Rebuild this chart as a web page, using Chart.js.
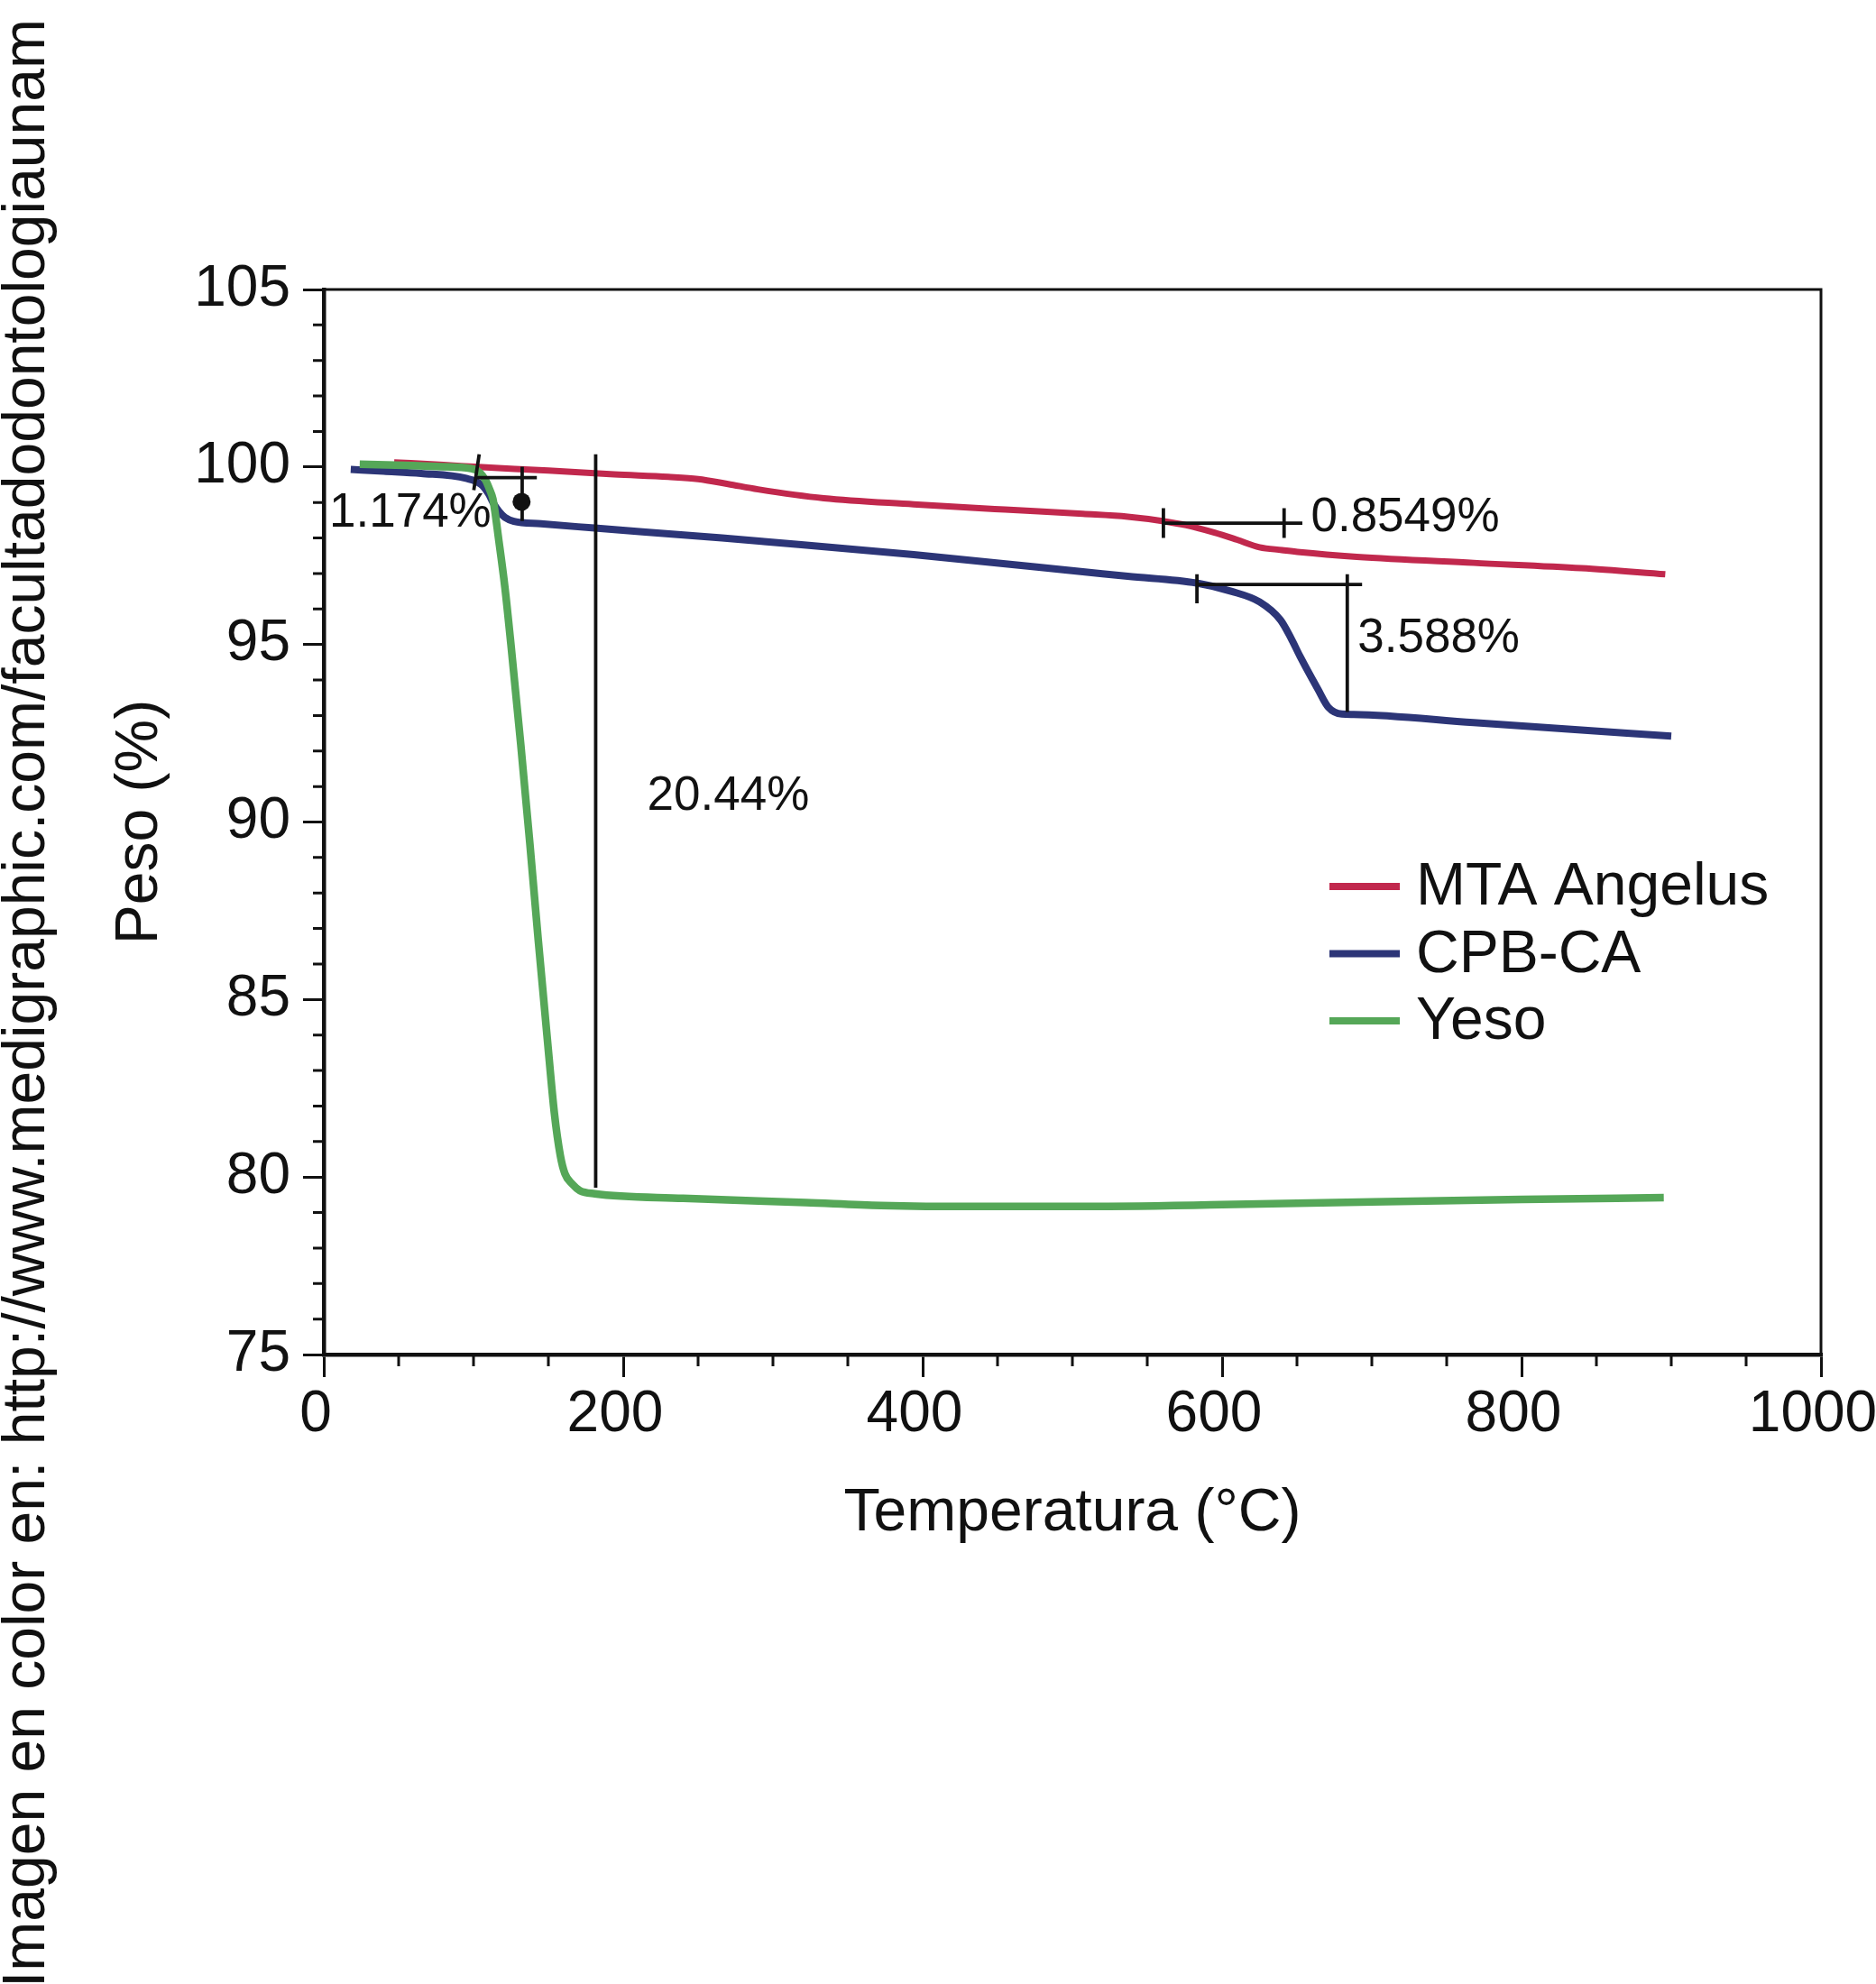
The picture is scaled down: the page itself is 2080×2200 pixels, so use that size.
<!DOCTYPE html>
<html lang="es">
<head>
<meta charset="utf-8">
<title>Peso vs Temperatura</title>
<script src="https://cdn.jsdelivr.net/npm/chart.js@4.4.1/dist/chart.umd.min.js"></script>
<style>
  html, body { margin: 0; padding: 0; background: #fff; overflow: hidden; }
  #wrap { position: relative; width: 2080px; height: 2200px; }
  #tgaChart { position: absolute; left: 0; top: 0; }
  .watermark {
    position: absolute;
    left: -7px;
    top: 2204px;
    transform-origin: 0 0;
    transform: rotate(-90deg);
    font: 66px/1 'Liberation Sans', Arial, Helvetica, sans-serif;
    white-space: nowrap;
    color: #111;
  }
</style>
</head>
<body>
<div id="wrap">
  <canvas id="tgaChart" width="2080" height="2200"></canvas>
  <div class="watermark">Imagen en color en: http://www.medigraphic.com/facultadodontologiaunam</div>
</div>
<script>
// Values (temperature in °C, weight in %)
const mtaTemp = [47, 80, 103, 150, 194, 230, 250, 270, 290, 334, 394, 455, 507, 537, 560, 576, 595, 610, 625, 640, 652, 690, 768, 840, 896];
const mtaPeso = [100.13, 100.06, 100.0, 99.9, 99.79, 99.72, 99.66, 99.52, 99.37, 99.12, 98.95, 98.80, 98.68, 98.60, 98.48, 98.36, 98.15, 97.95, 97.74, 97.66, 97.60, 97.47, 97.30, 97.15, 96.98];

const cpbTemp = [18, 40, 65, 95, 105, 110, 113, 117, 121, 127, 145, 181, 266, 294, 394, 507, 537, 583, 606, 625, 639, 646, 652, 664, 671, 680, 688, 768, 900];
const cpbPeso = [99.93, 99.88, 99.82, 99.68, 99.51, 99.25, 99.0, 98.75, 98.58, 98.47, 98.40, 98.28, 98.0, 97.90, 97.53, 97.05, 96.92, 96.73, 96.50, 96.20, 95.69, 95.18, 94.67, 93.74, 93.23, 93.04, 93.03, 92.80, 92.42];

const yesoTemp = [24, 60, 85, 101, 108, 111, 113, 117, 121, 125, 131.6, 137.6, 143.3, 149.3, 154, 158, 161, 166, 171, 181, 240, 322, 372, 435, 500, 600, 700, 800, 895];
const yesoPeso = [100.08, 100.04, 100.0, 99.93, 99.63, 99.34, 99.09, 97.9, 96.6, 95.0, 92.17, 89.41, 86.65, 83.89, 81.8, 80.6, 80.1, 79.8, 79.62, 79.53, 79.40, 79.28, 79.2, 79.17, 79.17, 79.22, 79.3, 79.37, 79.42];

const seriesNames = ['MTA Angelus', 'CPB-CA', 'Yeso'];
const seriesColors = ['#c1284d', '#2c3577', '#55a758'];

// Axis ranges and tick steps
const tempRange = [0, 1000];
const pesoRange = [75, 105];
const tempStep = 200;
const pesoStep = 5;

// Step marks drawn on the curves, in data units: [t1, w1, t2, w2]
const markLines = [
  [181.6, 100.36, 181.6, 79.70],
  [100.2, 99.35, 103.8, 100.36],
  [101.4, 99.70, 142.3, 99.70],
  [132.5, 100.01, 132.5, 98.48],
  [560.2, 98.42, 653.6, 98.42],
  [560.8, 98.84, 560.8, 98.00],
  [641.4, 98.84, 641.4, 98.00],
  [583.2, 96.69, 693.5, 96.69],
  [583.2, 96.98, 583.2, 96.16],
  [683.6, 96.98, 683.6, 93.10]
];
const markDot = [132.1, 99.02];
const markTexts = ['1.174%', '20.44%', '0.8549%', '3.588%'];
const markTextPos = [[3.6, 98.68], [216, 90.72], [659.3, 98.56], [690.5, 95.16]];

const ink = '#111';
const fontFamily = "'Liberation Sans', Arial, Helvetica, sans-serif";
Chart.defaults.font.family = fontFamily;
Chart.defaults.color = ink;

const toPoints = (xs, ys) => xs.map((t, i) => ({ x: t, y: ys[i] }));

// Minor ticks, frame, step marks and legend
const tgaDecor = {
  id: 'tgaDecor',
  afterDatasetsDraw(chart) {
    const { ctx, chartArea: a, scales: { x, y } } = chart;
    ctx.save();

    // top and right sides of the frame
    ctx.strokeStyle = ink;
    ctx.lineWidth = 3;
    ctx.beginPath();
    ctx.moveTo(a.left, a.top);
    ctx.lineTo(a.right, a.top);
    ctx.lineTo(a.right, a.bottom);
    ctx.stroke();

    // minor ticks
    ctx.beginPath();
    for (let t = tempRange[0] + 50; t < tempRange[1]; t += 50) {
      if (t % tempStep === 0) continue;
      const px = x.getPixelForValue(t);
      ctx.moveTo(px, a.bottom);
      ctx.lineTo(px, a.bottom + 13);
    }
    for (let w = pesoRange[0] + 1; w < pesoRange[1]; w += 1) {
      if (w % pesoStep === 0) continue;
      const py = y.getPixelForValue(w);
      ctx.moveTo(a.left, py);
      ctx.lineTo(a.left - 12, py);
    }
    ctx.stroke();

    // step marks
    ctx.lineWidth = 3.8;
    ctx.beginPath();
    markLines.forEach(([t1, w1, t2, w2]) => {
      ctx.moveTo(x.getPixelForValue(t1), y.getPixelForValue(w1));
      ctx.lineTo(x.getPixelForValue(t2), y.getPixelForValue(w2));
    });
    ctx.stroke();
    ctx.fillStyle = ink;
    ctx.beginPath();
    ctx.arc(x.getPixelForValue(markDot[0]), y.getPixelForValue(markDot[1]), 10, 0, Math.PI * 2);
    ctx.fill();

    ctx.font = '53px ' + fontFamily;
    ctx.textAlign = 'left';
    ctx.textBaseline = 'middle';
    markTexts.forEach((txt, i) => {
      ctx.fillText(txt, x.getPixelForValue(markTextPos[i][0]), y.getPixelForValue(markTextPos[i][1]));
    });

    // legend
    ctx.font = '66px ' + fontFamily;
    ctx.textBaseline = 'alphabetic';
    chart.data.datasets.forEach((ds, i) => {
      const rowY = 983 + i * 74.5;
      ctx.strokeStyle = ds.borderColor;
      ctx.lineWidth = 8;
      ctx.beginPath();
      ctx.moveTo(1474, rowY);
      ctx.lineTo(1552, rowY);
      ctx.stroke();
      ctx.fillStyle = ink;
      ctx.fillText(ds.label, 1570, rowY + 20);
    });

    ctx.restore();
  }
};

new Chart(document.getElementById('tgaChart'), {
  type: 'line',
  data: {
    datasets: [
      { label: seriesNames[0], data: toPoints(mtaTemp, mtaPeso), borderColor: seriesColors[0], borderWidth: 7, order: 2 },
      { label: seriesNames[1], data: toPoints(cpbTemp, cpbPeso), borderColor: seriesColors[1], borderWidth: 8, order: 1 },
      { label: seriesNames[2], data: toPoints(yesoTemp, yesoPeso), borderColor: seriesColors[2], borderWidth: 8.5, order: 0 }
    ]
  },
  options: {
    responsive: false,
    devicePixelRatio: 1,
    animation: false,
    layout: { padding: { left: 0, top: 321, right: 61, bottom: 478 } },
    elements: {
      point: { radius: 0 },
      line: { cubicInterpolationMode: 'monotone', fill: false, borderJoinStyle: 'round' }
    },
    plugins: {
      legend: { display: false },
      tooltip: { enabled: false }
    },
    scales: {
      x: {
        type: 'linear',
        min: tempRange[0],
        max: tempRange[1],
        afterFit(scale) {
          scale.height = 220;
          scale.paddingLeft = 0;
          scale.paddingRight = 0;
        },
        ticks: {
          stepSize: tempStep,
          font: { size: 64 },
          color: ink,
          padding: 4,
          labelOffset: -9,
          maxRotation: 0,
          autoSkip: false,
          callback: (value) => String(value)
        },
        grid: { drawOnChartArea: false, drawTicks: true, tickLength: 25, lineWidth: 3, tickWidth: 3, tickColor: ink, color: ink },
        border: { display: true, width: 4.5, color: ink },
        title: { display: true, text: 'Temperatura (°C)', font: { size: 66 }, color: ink, padding: { top: 0, bottom: 4 } }
      },
      y: {
        type: 'linear',
        min: pesoRange[0],
        max: pesoRange[1],
        afterFit(scale) {
          scale.width = 359;
        },
        ticks: { stepSize: pesoStep, font: { size: 64 }, color: ink, padding: 14, autoSkip: false, callback: (value) => String(value) },
        grid: { drawOnChartArea: false, drawTicks: true, tickLength: 23, lineWidth: 3, tickWidth: 3, tickColor: ink, color: ink },
        border: { display: true, width: 4.5, color: ink },
        title: { display: true, text: 'Peso (%)', font: { size: 66 }, color: ink, padding: { top: 116, bottom: 0 } }
      }
    }
  },
  plugins: [tgaDecor]
});
</script>
</body>
</html>
